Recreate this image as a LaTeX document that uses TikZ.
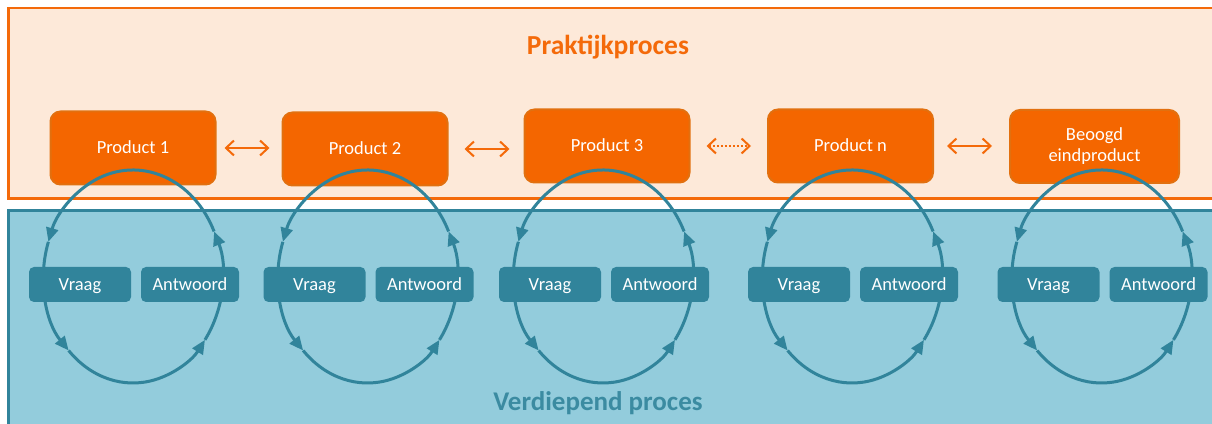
\documentclass[tikz,border=0pt]{standalone}
\usepackage{fontspec}
\setmainfont{Carlito}
\usepackage{xcolor}
\usepackage{tikz}
\usetikzlibrary{arrows.meta}

\definecolor{peach}{HTML}{FDE9D9}
\definecolor{orangeline}{HTML}{F46A0A}
\definecolor{orangefill}{HTML}{F46600}
\definecolor{orangeedge}{HTML}{E2700F}
\definecolor{aqua}{HTML}{93CCDC}
\definecolor{tealc}{HTML}{31849B}

\tikzset{
    product/.style={draw=orangeedge, line width=2pt, fill=orangefill, rounded corners=10pt,
        minimum width=165pt, minimum height=73pt, inner sep=0pt, text=white,
        font=\fontsize{18.5}{21}\selectfont, text height=12pt, text depth=0pt},
    qbox/.style={fill=tealc, rounded corners=5pt, minimum height=35pt, inner sep=0pt,
        text=white, font=\fontsize{18.5}{21}\selectfont, text height=12pt, text depth=0pt},
    link/.style={draw=orangeline, line width=2pt, >={Straight Barb[length=8pt,width=15pt]}, <->},
    qacircle/.style={draw=tealc, line width=3pt, -{Triangle[length=14pt,width=12pt,sharp]}}
}

% one question-answer cycle around centre #1
\newcommand{\qacycle}[1]{%
    \draw[qacircle] ([shift={(-36.5:89.5 and 106.5)}]#1) arc[start angle=-36.5, end angle=25, x radius=89.5, y radius=106.5];
    \draw[qacircle] ([shift={(25:89.5 and 106.5)}]#1) arc[start angle=25, end angle=161, x radius=89.5, y radius=106.5];
    \draw[qacircle] ([shift={(161:89.5 and 106.5)}]#1) arc[start angle=161, end angle=224, x radius=89.5, y radius=106.5];
    \draw[qacircle] ([shift={(224:89.5 and 106.5)}]#1) arc[start angle=224, end angle=323.5, x radius=89.5, y radius=106.5];
}

\begin{document}
\begin{tikzpicture}[x=1pt, y=1pt]
    \useasboundingbox (0,0) rectangle (1212,423);
    \fill[white] (0,0) rectangle (1212,423);
    \clip (0,0) rectangle (1212,423);

    % Two process bands
    \draw[orangeline, line width=2.7pt, fill=peach] (8.7,224.3) rectangle (1240,415);
    \draw[tealc, line width=2.7pt, fill=aqua] (8.7,-20) rectangle (1240,212.7);

    % Products
    \node[product] (p1) at (133,275) {Product 1};
    \node[product] (p2) at (365,274) {Product 2};
    \node[product] (p3) at (607,277) {Product 3};
    \node[product] (pn) at (850.5,277) {Product n};
    \node[product, minimum width=169pt, align=center, text height={}, text depth={}] (pb) at (1094.5,276.5) {Beoogd\\eindproduct};

    % Links between products
    \draw[link, shorten <=8pt, shorten >=12pt] (p1.east) -- (p1.east -| p2.west);
    \draw[link, shorten <=16pt, shorten >=14pt] (p2.east) -- (p2.east -| p3.west);
    \draw[link, dash pattern=on 2pt off 2pt, shorten <=16pt, shorten >=16pt] (p3.east) -- (p3.east -| pn.west);
    \draw[link, shorten <=13pt, shorten >=17pt] (pn.east) -- (pn.east -| pb.west);

    % Question and answer cycles
    \coordinate (c1) at (133,146.5);
    \coordinate (c2) at (367.5,146.5);
    \coordinate (c3) at (603,146.5);
    \coordinate (c4) at (852,146.5);
    \coordinate (c5) at (1101.5,146.5);
    \qacycle{c1}
    \qacycle{c2}
    \qacycle{c3}
    \qacycle{c4}
    \qacycle{c5}

    \node[qbox, minimum width=102pt] (v1) at ([xshift=-53pt, yshift=-8pt]c1) {Vraag};
    \node[qbox, minimum width=98pt] (a1) at ([xshift=57pt, yshift=-8pt]c1) {Antwoord};
    \node[qbox, minimum width=102pt] (v2) at ([xshift=-53pt, yshift=-8pt]c2) {Vraag};
    \node[qbox, minimum width=98pt] (a2) at ([xshift=57pt, yshift=-8pt]c2) {Antwoord};
    \node[qbox, minimum width=102pt] (v3) at ([xshift=-53pt, yshift=-8pt]c3) {Vraag};
    \node[qbox, minimum width=98pt] (a3) at ([xshift=57pt, yshift=-8pt]c3) {Antwoord};
    \node[qbox, minimum width=102pt] (v4) at ([xshift=-53pt, yshift=-8pt]c4) {Vraag};
    \node[qbox, minimum width=98pt] (a4) at ([xshift=57pt, yshift=-8pt]c4) {Antwoord};
    \node[qbox, minimum width=102pt] (v5) at ([xshift=-53pt, yshift=-8pt]c5) {Vraag};
    \node[qbox, minimum width=98pt] (a5) at ([xshift=57pt, yshift=-8pt]c5) {Antwoord};

    % Titles
    \node[anchor=base, text=orangeline, font=\bfseries\fontsize{27.5}{33}\selectfont] (praktijk) at (608,368.7) {Praktijkproces};
    \node[anchor=base, text=tealc!90!aqua, font=\bfseries\fontsize{27}{33}\selectfont] (verdiepend) at (598,13) {Verdiepend proces};
\end{tikzpicture}
\end{document}
